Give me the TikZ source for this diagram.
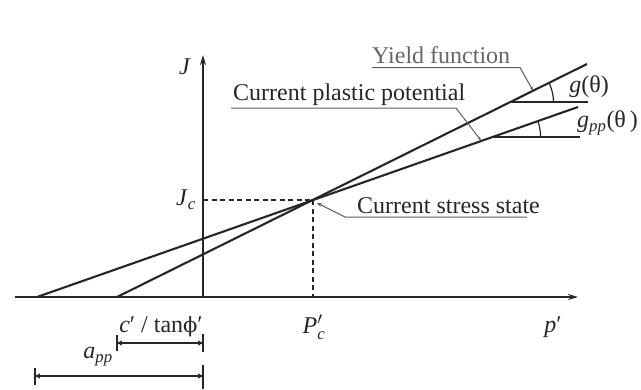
\documentclass[tikz,border=0pt]{standalone}
\usepackage{fontspec}
\usepackage{amsmath}
\setmainfont{Liberation Serif}
\newfontfamily\dvs{DejaVu Serif}
\usetikzlibrary{arrows.meta}
\definecolor{ink}{HTML}{262626}
\begin{document}
\begin{tikzpicture}[x=1pt,y=-1pt,
  axis/.style={draw=ink, line width=2.1pt, -{Stealth[length=10pt,width=6pt]}},
  curveline/.style={draw=ink, line width=2.1pt},
  guide/.style={draw=ink, line width=1.2pt, dash pattern=on 5pt off 3.5pt},
  leader/.style={draw=ink!75, line width=1pt},
  dimline/.style={draw=ink, line width=1.2pt, {To[length=5pt,width=5pt]}-{To[length=5pt,width=5pt]}},
  tick/.style={draw=ink, line width=1.2pt},
  lbl/.style={text=ink, font=\fontsize{24}{28}\selectfont, inner sep=0pt},
  sym/.style={text=ink, font=\fontsize{24}{28}\selectfont, inner sep=0pt}]
\useasboundingbox (0,0) rectangle (641,389);
% axes
\coordinate (O) at (203,297);
\coordinate (xstart) at (15,297);
\coordinate (xend) at (578,297);
\coordinate (yend) at (203,55);
\draw[axis] (xstart) -- (xend);
\draw[axis] (O) -- (yend);
% lines
\coordinate (pp0) at (37,297);
\coordinate (pp1) at (578,107);
\coordinate (yf0) at (117,297);
\coordinate (yf1) at (587,64);
\coordinate (C) at (313,200);
\draw[curveline] (pp0) -- (pp1);
\draw[curveline] (yf0) -- (yf1);
% dashed guides
\coordinate (Jc) at (203,200);
\coordinate (Pc) at (313,297);
\draw[guide] (Jc) -- (C);
\draw[guide] (C) -- (Pc);
% angle g
\coordinate (g0) at (510.5,102);
\coordinate (g1) at (588,102);
\draw[tick] (g0) -- (g1);
\draw[tick] (g0) ++(43,0) arc[start angle=0, end angle=-26.4, radius=43];
% angle gpp
\coordinate (gp0) at (492.6,137);
\coordinate (gp1) at (580,137);
\draw[tick] (gp0) -- (gp1);
\draw[tick] (gp0) ++(48,0) arc[start angle=0, end angle=-19.4, radius=48];
% labels top
\node[lbl, text=black!60, anchor=base west] (yfl) at (372,63) {Yield function};
\coordinate (yfa) at (372,67.5);
\coordinate (yfb) at (520,67.5);
\coordinate (yfc) at (533,90.5);
\draw[leader, -{Stealth[length=4pt,width=3pt]}] (yfa) -- (yfb) -- (yfc);
\node[lbl, anchor=base west] (cpp) at (233,100) {Current plastic potential};
\coordinate (cpa) at (231,108);
\coordinate (cpb) at (456,108);
\coordinate (cpc) at (481,140.5);
\draw[leader, -{Stealth[length=4pt,width=3pt]}] (cpa) -- (cpb) -- (cpc);
\node[lbl, anchor=base west] (css) at (357,213) {Current stress state};
\coordinate (csa) at (317,203);
\coordinate (csb) at (345,217);
\coordinate (csc) at (527,217);
\draw[leader, {Stealth[length=5pt,width=4pt]}-] (csa) -- (csb) -- (csc);
% symbols
\node[sym] (Jl) at (185,67) {\textit{J}};
\node[sym] (Jcl) at (186,200) {\textit{J}\textsubscript{\textit{c}}};
\node[sym] (gl) at (589,87) {\textit{g}(θ)};
\node[sym, anchor=west] (gpl) at (577,123) {\textit{g}\textsubscript{\textit{pp}}(θ\,)};
\node[sym] (ctl) at (161,327) {\textit{c}′ / tan{\dvs\fontsize{21}{24}\selectfont ϕ}′};
\node[sym] (pcl) at (314,327) {$\textit{P}'_{\textit{c}}$};
\node[sym] (pl) at (553,327) {\textit{p}′};
\node[sym] (appl) at (98,357) {\textit{a}\textsubscript{\textit{pp}}};
% dimensions
\coordinate (d1a) at (117,343);
\coordinate (d1b) at (203,343);
\draw[dimline] (d1a) -- (d1b);
\draw[tick] (117,335) -- (117,351);
\draw[tick] (203,334) -- (203,352);
\coordinate (d2a) at (35,376);
\coordinate (d2b) at (203,376);
\draw[dimline] (d2a) -- (d2b);
\draw[tick] (35,368) -- (35,385);
\draw[tick] (203,365) -- (203,389);
\end{tikzpicture}
\end{document}
